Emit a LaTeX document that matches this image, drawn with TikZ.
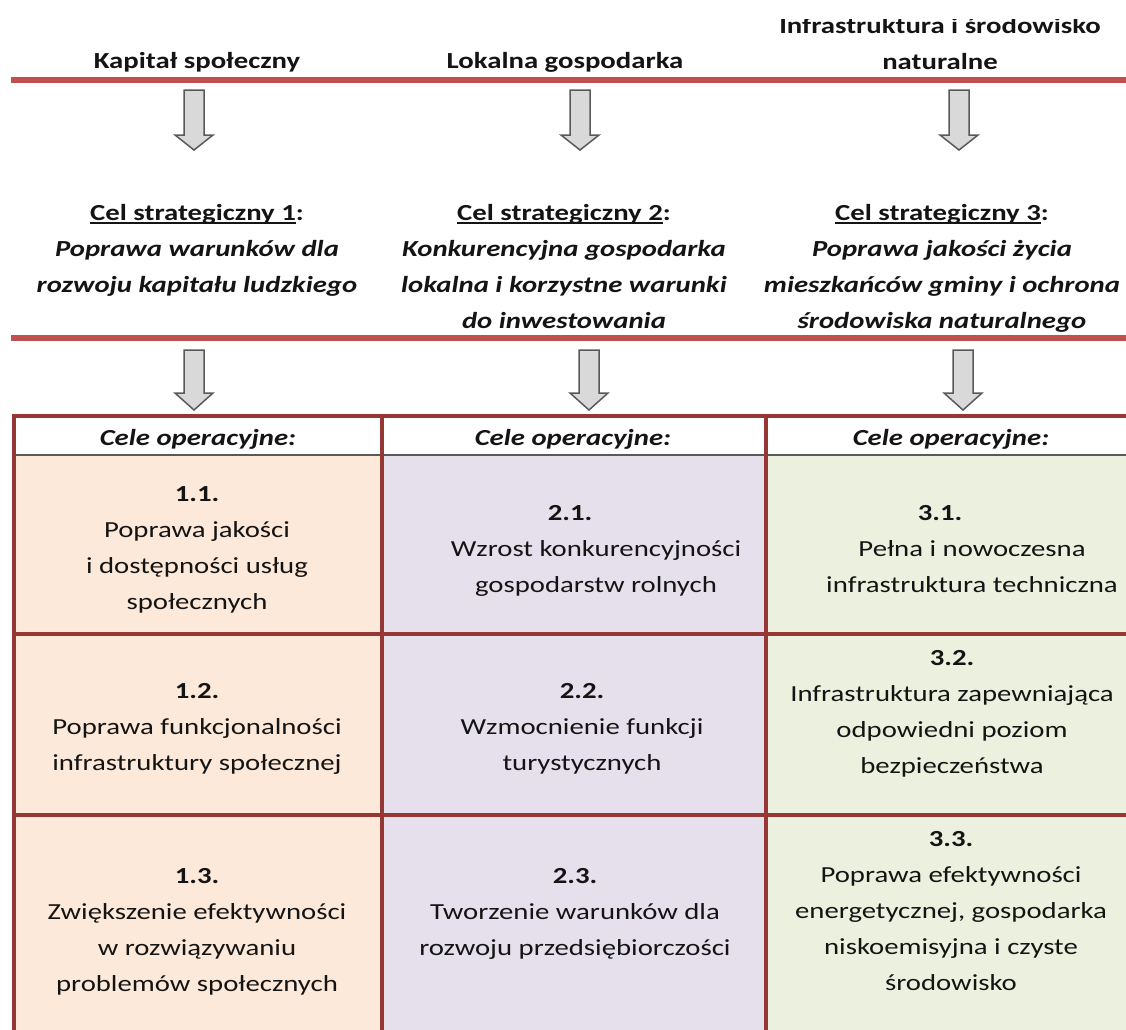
\documentclass[tikz,border=0pt]{standalone}
\usepackage{fontspec}
\setmainfont{Carlito}[FakeStretch=1.25]
\definecolor{redline}{HTML}{C0504D}
\definecolor{tborder}{HTML}{953735}
\definecolor{cA}{HTML}{FDE9D9}
\definecolor{cB}{HTML}{E5E0EC}
\definecolor{cC}{HTML}{EBF1DE}
\definecolor{arrfill}{HTML}{D9D9D9}
\definecolor{arrdraw}{HTML}{595959}
\definecolor{txtcol}{HTML}{141414}
\newcommand\myul[1]{\setbox0\hbox{#1}\rlap{\rule[-4pt]{\wd0}{1.6pt}}\box0}
\newcommand\garrow[4]{\draw[blockarr] (#1-10,#2) -- (#1+10,#2) -- (#1+10,#3) -- (#1+19,#3) -- (#1,#4) -- (#1-19,#3) -- (#1-10,#3) -- cycle;}
\begin{document}
\begin{tikzpicture}[x=1pt,y=-1pt,
  txt/.style={font=\fontsize{23}{36}\selectfont, align=center, inner sep=0pt, anchor=base, text=txtcol},
  hd/.style={font=\fontsize{23}{36}\selectfont\bfseries, align=center, inner sep=0pt, anchor=base, text=txtcol},
  bi/.style={font=\fontsize{23}{36}\selectfont\bfseries\itshape, align=center, inner sep=0pt, anchor=base, text=txtcol},
  redrule/.style={draw=redline, line width=6pt},
  tline/.style={draw=tborder, line width=4pt},
  gline/.style={draw=arrdraw, line width=1.8pt},
  blockarr/.style={fill=arrfill, draw=arrdraw, line width=1.5pt, line join=miter}
]
\useasboundingbox (0,0) rectangle (1126,1029);
\clip (0,0) rectangle (1126,1029);

% top headers (anchor = baseline of last line)
\node[hd] (h1) at (197,68) {Kapitał społeczny};
\node[hd] (h2) at (565,68) {Lokalna gospodarka};
\begin{scope}
  \clip (700,19.5) rectangle (1126,78);
  \node[hd] (h3) at (940,69) {Infrastruktura i środowisko\\naturalne};
\end{scope}
\draw[redrule] (11,80) -- (1130,80);

% first arrows
\garrow{194}{90}{135}{150}
\garrow{580}{90}{135}{150}
\garrow{959}{90}{135}{150}

% strategic goals
\node[hd] (s1) at (197,292) {\myul{Cel strategiczny 1}:\\\textit{Poprawa warunków dla}\\\textit{rozwoju kapitału ludzkiego}};
\node[hd] (s2) at (564,328) {\myul{Cel strategiczny 2}:\\\textit{Konkurencyjna gospodarka}\\\textit{lokalna i korzystne warunki}\\\textit{do inwestowania}};
\node[hd] (s3) at (942,328) {\myul{Cel strategiczny 3}:\\\textit{Poprawa jakości życia}\\\textit{mieszkańców gminy i ochrona}\\\textit{środowiska naturalnego}};
\draw[redrule] (11,338) -- (1130,338);

% second arrows
\garrow{194}{350}{393}{410}
\garrow{589}{350}{393}{410}
\garrow{963}{350}{393}{410}

% table fills
\fill[cA] (14,455) rectangle (382,1035);
\fill[cB] (382,455) rectangle (766,1035);
\fill[cC] (766,455) rectangle (1130,1035);
\draw[gline] (14,455) -- (1130,455);
\draw[tline] (14,1035) -- (14,416) -- (1130,416);
\draw[tline] (382,416) -- (382,1035);
\draw[tline] (766,416) -- (766,1035);
\draw[tline] (14,634) -- (1130,634);
\draw[tline] (14,815) -- (1130,815);

% column headers
\node[bi] (o1) at (198,445) {Cele operacyjne:};
\node[bi] (o2) at (573,445) {Cele operacyjne:};
\node[bi] (o3) at (951,445) {Cele operacyjne:};

% row 1
\node[txt] (c11) at (197,609) {\textbf{1.1.}\\Poprawa jakości\\i dostępności usług\\społecznych};
\node[txt] (c21) at (596,592) {\hspace*{-52pt}\textbf{2.1.}\\Wzrost konkurencyjności\\gospodarstw rolnych};
\node[txt] (c31) at (972,592) {\hspace*{-64pt}\textbf{3.1.}\\Pełna i nowoczesna\\infrastruktura techniczna};

% row 2
\node[txt] (c12) at (197,770) {\textbf{1.2.}\\Poprawa funkcjonalności\\infrastruktury społecznej};
\node[txt] (c22) at (582,770) {\textbf{2.2.}\\Wzmocnienie funkcji\\turystycznych};
\node[txt] (c32) at (952,773) {\textbf{3.2.}\\Infrastruktura zapewniająca\\odpowiedni poziom\\bezpieczeństwa};

% row 3
\node[txt] (c13) at (197,991) {\textbf{1.3.}\\Zwiększenie efektywności\\w rozwiązywaniu\\problemów społecznych};
\node[txt] (c23) at (575,955) {\textbf{2.3.}\\Tworzenie warunków dla\\rozwoju przedsiębiorczości};
\node[txt] (c33) at (951,990) {\textbf{3.3.}\\Poprawa efektywności\\energetycznej, gospodarka\\niskoemisyjna i czyste\\środowisko};
\end{tikzpicture}
\end{document}
